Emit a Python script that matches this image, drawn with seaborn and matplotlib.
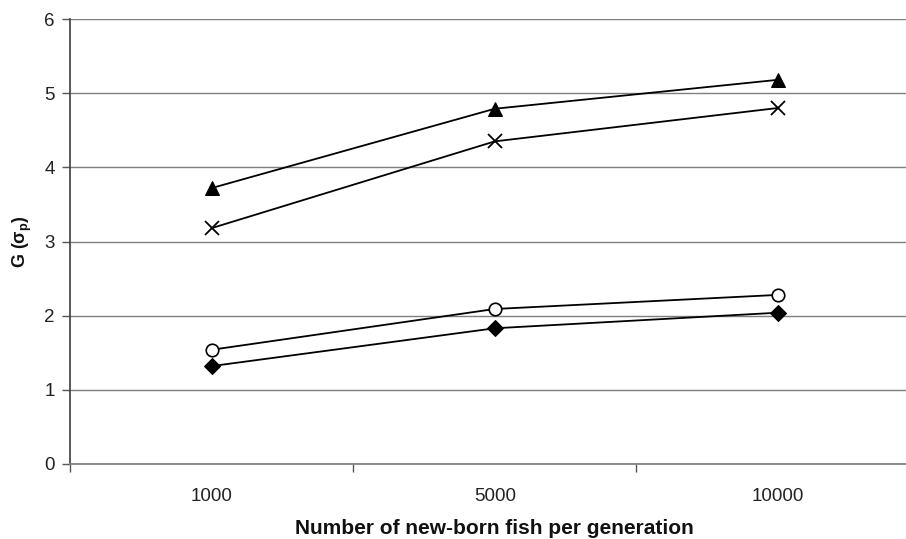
import matplotlib
matplotlib.use("Agg")
import matplotlib.pyplot as plt
import seaborn as sns
import pandas as pd
import numpy as np

categories = ["1000", "5000", "10000"]
triangle_vals = [3.72, 4.79, 5.18]
cross_vals = [3.18, 4.35, 4.80]
circle_vals = [1.54, 2.09, 2.28]
diamond_vals = [1.32, 1.83, 2.04]
yticks = [0, 1, 2, 3, 4, 5, 6]

sns.set_theme(style="white")
plt.rcParams['font.family'] = ['Liberation Sans', 'DejaVu Sans']
plt.rcParams['mathtext.fontset'] = 'custom'
plt.rcParams['mathtext.rm'] = 'Liberation Sans'
plt.rcParams['mathtext.bf'] = 'Liberation Sans:bold'

fig = plt.figure(figsize=(9.06, 5.39), dpi=100)
W, H = 906, 539
ax = fig.add_axes([70 / W, (539 - 464) / H, 849.5 / W, 445 / H])

series = [
    (triangle_vals, dict(marker="^", markersize=10, markerfacecolor="black", markeredgecolor="black")),
    (cross_vals, dict(marker="x", markersize=10, markeredgewidth=1.3, markeredgecolor="black")),
    (circle_vals, dict(marker="o", markersize=9, markerfacecolor="white", markeredgecolor="black", markeredgewidth=1.2)),
    (diamond_vals, dict(marker="D", markersize=8, markerfacecolor="black", markeredgecolor="black")),
]
for vals, mk in series:
    df = pd.DataFrame({"x": categories, "y": vals})
    sns.lineplot(data=df, x="x", y="y", ax=ax, color="black", linewidth=1.3, sort=False, **mk)

ax.set_xlim(-0.5, 2.5)
ax.set_ylim(0, 6)
ax.set_yticks(yticks)
ax.set_yticklabels([str(v) for v in yticks])
ax.yaxis.grid(True, color="#7f7f7f", linewidth=1.0)
ax.set_axisbelow(True)

ax.set_xticks([0, 1, 2])
ax.set_xticklabels(categories)
ax.set_xticks([-0.5, 0.5, 1.5, 2.5], minor=True)
ax.tick_params(axis="x", which="major", length=0, pad=17, labelsize=13.5, labelcolor="#222222")
ax.tick_params(axis="x", which="minor", length=6, width=1, color="#555555", direction="out", bottom=True)
ax.tick_params(axis="y", which="major", length=6, width=1, color="#555555", direction="out", left=True,
               labelsize=13.5, pad=5, labelcolor="#222222")

for s in ["top", "right"]:
    ax.spines[s].set_visible(False)
ax.spines["left"].set_color("#444444")
ax.spines["bottom"].set_color("#7f7f7f")

ax.set_xlabel("Number of new-born fish per generation", fontsize=15, fontweight="bold", color="#111111")
ax.xaxis.set_label_coords((494 - 70) / 849.5, -(519 - 464) / 445)
ax.xaxis.label.set_va("top")
ax.set_ylabel(r"G ($\mathbf{\sigma_p}$)", fontsize=13, fontweight="bold", color="#111111")
ax.yaxis.set_label_coords(-(70 - 34) / 849.5, 0.5)

fig.savefig("out.png", dpi=100)
